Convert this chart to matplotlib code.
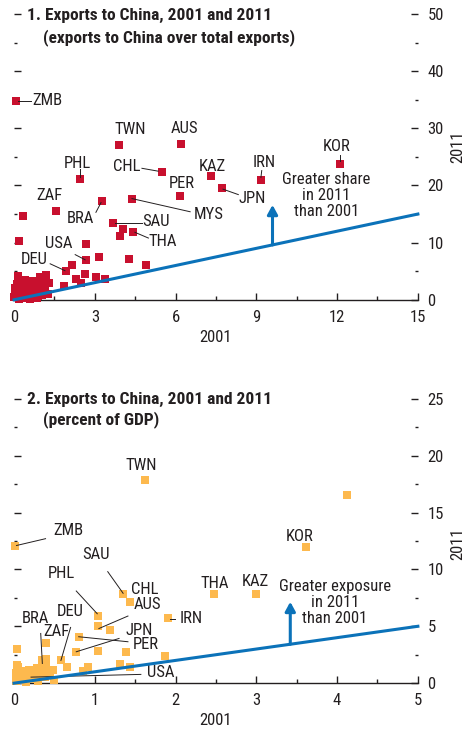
import matplotlib
matplotlib.use("Agg")
import matplotlib.pyplot as plt
from matplotlib.ticker import MultipleLocator

plt.rcParams['font.family'] = ['Roboto Condensed', 'Liberation Sans', 'DejaVu Sans']

# ---------------- Panel 1 data: exports to China over total exports ----------
p1_x = [0.06, 3.9, 6.2, 12.09, 2.46, 5.48, 7.3, 9.17, 6.16, 7.72, 4.38, 3.28, 1.56,
        0.35, 3.68, 4.05, 3.94, 4.42, 0.19, 2.67, 2.67, 3.16, 4.27, 4.89, 2.15, 1.93,
        2.62, 2.30, 2.49, 3.04, 3.38, 1.86,
        0.0, 0.05, 0.1, 0.15, 0.2, 0.25, 0.3, 0.35, 0.4, 0.45, 0.5, 0.55, 0.6, 0.65,
        0.7, 0.75, 0.8, 0.85, 0.9, 0.95, 1.0, 1.05, 1.1, 1.15, 1.2, 1.25, 0.2, 0.6,
        0.9, 0.05, 1.3, 0.4]
p1_y = [34.7, 27.1, 27.3, 23.8, 21.1, 22.3, 21.6, 20.9, 18.2, 19.5, 17.7, 17.2, 15.6,
        14.6, 13.5, 12.4, 11.1, 11.8, 10.3, 9.7, 6.9, 7.4, 7.2, 6.1, 6.0, 5.0,
        4.5, 3.7, 2.9, 4.0, 3.6, 2.4,
        0.5, 1.2, 2.8, 4.2, 3.0, 1.5, 2.2, 0.8, 3.5, 1.9, 0.4, 2.6, 1.2, 3.3,
        0.7, 2.0, 1.4, 0.3, 2.9, 3.9, 1.8, 0.9, 3.3, 2.4, 4.3, 1.1, 0.2, 0.1,
        0.6, 2.0, 3.0, 0.3]

# label, text x, text y, leader start (x,y) or None, leader end (x,y)
p1_labels = [
    ("ZMB", 1.23, 34.8, (0.15, 34.7), (0.62, 34.7)),
    ("TWN", 4.31, 29.7, None, None),
    ("AUS", 6.31, 30.0, None, None),
    ("KOR", 12.0, 26.8, (12.09, 25.3), (12.09, 24.3)),
    ("PHL", 2.35, 23.9, (2.46, 22.8), (2.46, 21.5)),
    ("CHL", 4.2, 23.3, (4.75, 23.0), (5.35, 22.5)),
    ("KAZ", 7.35, 23.4, None, None),
    ("IRN", 9.28, 24.1, (9.2, 22.6), (9.17, 21.4)),
    ("PER", 6.23, 20.3, None, None),
    ("JPN", 8.83, 17.8, (7.76, 19.35), (8.33, 18.4)),
    ("MYS", 7.22, 15.0, (4.38, 17.7), (6.54, 15.4)),
    ("BRA", 2.45, 14.3, (3.04, 15.3), (3.23, 17.0)),
    ("ZAF", 1.30, 18.2, None, None),
    ("SAU", 5.26, 13.7, (3.75, 13.5), (4.74, 13.5)),
    ("THA", 5.51, 10.2, (4.49, 11.8), (4.99, 10.8)),
    ("USA", 1.65, 9.8, (2.27, 7.9), (2.64, 7.0)),
    ("DEU", 0.75, 7.1, (1.34, 6.3), (1.89, 5.1)),
]

# ---------------- Panel 2 data: exports to China, percent of GDP -------------
p2_x = [1.62, 4.12, 0.01, 3.61, 1.35, 1.43, 2.48, 2.99, 1.91, 1.04, 1.04, 1.19,
        0.77, 0.80, 1.04, 1.38, 1.87, 1.31, 1.43, 0.92, 0.85, 0.58, 0.66, 0.39,
        0.04, 0.35, 0.21,
        0.02, 0.05, 0.08, 0.1, 0.12, 0.15, 0.18, 0.2, 0.22, 0.25, 0.28, 0.3, 0.32,
        0.35, 0.38, 0.4, 0.42, 0.45, 0.48, 0.5, 0.03, 0.4, 0.35, 0.15, 0.04]
p2_y = [17.9, 16.5, 12.1, 12.0, 7.8, 7.1, 7.8, 7.8, 5.7, 5.9, 5.0, 4.7,
        2.7, 4.1, 2.8, 2.7, 2.4, 1.7, 1.4, 1.4, 1.1, 2.0, 1.4, 3.5,
        3.0, 1.7, 0.6,
        0.9, 1.4, 0.5, 1.1, 0.3, 0.8, 1.2, 0.4, 1.0, 0.6, 1.3, 0.2, 0.9,
        1.5, 0.5, 2.1, 1.0, 0.7, 1.2, 0.3, 0.2, 1.7, 2.0, 0.1, 1.6]

p2_labels = [
    ("TWN", 1.57, 19.1, None, None),
    ("ZMB", 0.67, 13.4, (0.03, 12.1), (0.39, 12.7)),
    ("KOR", 3.54, 12.85, None, None),
    ("SAU", 1.01, 11.3, (1.16, 9.8), (1.35, 7.9)),
    ("PHL", 0.58, 9.65, (0.77, 8.1), (1.03, 6.1)),
    ("CHL", 1.62, 8.2, None, None),
    ("AUS", 1.65, 6.9, (1.41, 5.9), (1.05, 4.8)),
    ("THA", 2.48, 8.8, None, None),
    ("KAZ", 2.99, 8.9, None, None),
    ("IRN", 2.19, 5.7, (1.93, 5.66), (1.99, 5.66)),
    ("DEU", 0.70, 6.3, (0.70, 4.9), (0.58, 2.0)),
    ("BRA", 0.27, 5.7, (0.33, 4.37), (0.35, 1.73)),
    ("ZAF", 0.52, 4.5, None, None),
    ("JPN", 1.55, 4.67, (1.30, 3.93), (0.77, 2.76)),
    ("PER", 1.63, 3.43, (1.41, 3.64), (0.80, 4.08)),
    ("USA", 1.82, 0.91, (1.57, 0.77), (0.21, 0.53)),
]

RED = "#C8102E"
ORANGE = "#FDB94E"
BLUE = "#0B72B9"
TXT = "#231F20"
FS = 12
TFS = 12.5

fig = plt.figure(figsize=(4.69, 7.33), dpi=100)
ax1 = fig.add_axes([0.030, 0.591, 0.861, 0.390])
ax2 = fig.add_axes([0.030, 0.068, 0.861, 0.388])


def style(ax, xmax, xmaj, xmin, ymax, ymaj, ymin):
    ax.set_xlim(0, xmax)
    ax.set_ylim(0, ymax)
    for s in ("left", "right", "top"):
        ax.spines[s].set_visible(False)
    ax.spines["bottom"].set_color(TXT)
    ax.spines["bottom"].set_linewidth(1.0)
    ax.xaxis.set_major_locator(MultipleLocator(xmaj))
    ax.xaxis.set_minor_locator(MultipleLocator(xmin))
    ax.yaxis.set_major_locator(MultipleLocator(ymaj))
    ax.yaxis.set_minor_locator(MultipleLocator(ymin))
    ax.tick_params(axis="x", which="both", direction="in", colors=TXT, labelsize=FS, pad=7)
    ax.tick_params(axis="x", which="major", length=5, width=1)
    ax.tick_params(axis="x", which="minor", length=3, width=1)
    ax.tick_params(axis="y", which="both", direction="in", left=True, right=True,
                   labelleft=False, labelright=True, colors=TXT, labelsize=FS, pad=7)
    ax.tick_params(axis="y", which="major", length=5, width=1)
    ax.tick_params(axis="y", which="minor", length=2.2, width=1)
    ax.set_xlabel("2001", fontsize=FS, color=TXT, labelpad=4)


def draw_labels(ax, labels):
    for name, tx, ty, a, b in labels:
        ax.text(tx, ty, name, fontsize=FS, color=TXT, ha="center", va="center")
        if a is not None:
            ax.plot([a[0], b[0]], [a[1], b[1]], color=TXT, lw=0.7, zorder=4)


# Panel 1
style(ax1, 15, 3, 1.5, 50, 10, 5)
ax1.scatter(p1_x, p1_y, marker="s", s=30, color=RED, linewidths=0, zorder=3, clip_on=False)
ax1.plot([0, 15], [0, 15], color=BLUE, lw=2.2, zorder=5, clip_on=False)
ax1.annotate("", xy=(9.6, 16.6), xytext=(9.6, 9.6),
             arrowprops=dict(arrowstyle="-|>,head_length=0.55,head_width=0.3",
                             color=BLUE, lw=2.2, shrinkA=0, shrinkB=0), zorder=5)
ax1.text(11.6, 18.2, "Greater share\nin 2011\nthan 2001", fontsize=FS, color=TXT,
         ha="center", va="center", linespacing=1.1)
draw_labels(ax1, p1_labels)
ax1.text(0.032, 0.993, "1. Exports to China, 2001 and 2011", transform=ax1.transAxes,
         fontsize=TFS, fontweight="bold", color=TXT, ha="left", va="center")
ax1.text(0.072, 0.917, "(exports to China over total exports)", transform=ax1.transAxes,
         fontsize=TFS, fontweight="bold", color=TXT, ha="left", va="center")
ax1.text(1.099, 0.535, "2011", transform=ax1.transAxes, rotation=90, fontsize=FS,
         color=TXT, ha="center", va="center")

# Panel 2
style(ax2, 5, 1, 0.5, 25, 5, 2.5)
ax2.scatter(p2_x, p2_y, marker="s", s=36, color=ORANGE, linewidths=0, zorder=3, clip_on=False)
ax2.plot([0, 5], [0, 5], color=BLUE, lw=2.2, zorder=5, clip_on=False)
ax2.annotate("", xy=(3.42, 7.15), xytext=(3.42, 3.42),
             arrowprops=dict(arrowstyle="-|>,head_length=0.55,head_width=0.3",
                             color=BLUE, lw=2.2, shrinkA=0, shrinkB=0), zorder=5)
ax2.text(3.97, 7.1, "Greater exposure\nin 2011\nthan 2001", fontsize=FS, color=TXT,
         ha="center", va="center", linespacing=1.1)
draw_labels(ax2, p2_labels)
ax2.text(0.032, 0.996, "2. Exports to China, 2001 and 2011", transform=ax2.transAxes,
         fontsize=TFS, fontweight="bold", color=TXT, ha="left", va="center")
ax2.text(0.072, 0.926, "(percent of GDP)", transform=ax2.transAxes,
         fontsize=TFS, fontweight="bold", color=TXT, ha="left", va="center")
ax2.text(1.099, 0.49, "2011", transform=ax2.transAxes, rotation=90, fontsize=FS,
         color=TXT, ha="center", va="center")

fig.savefig("out.png", dpi=100)
